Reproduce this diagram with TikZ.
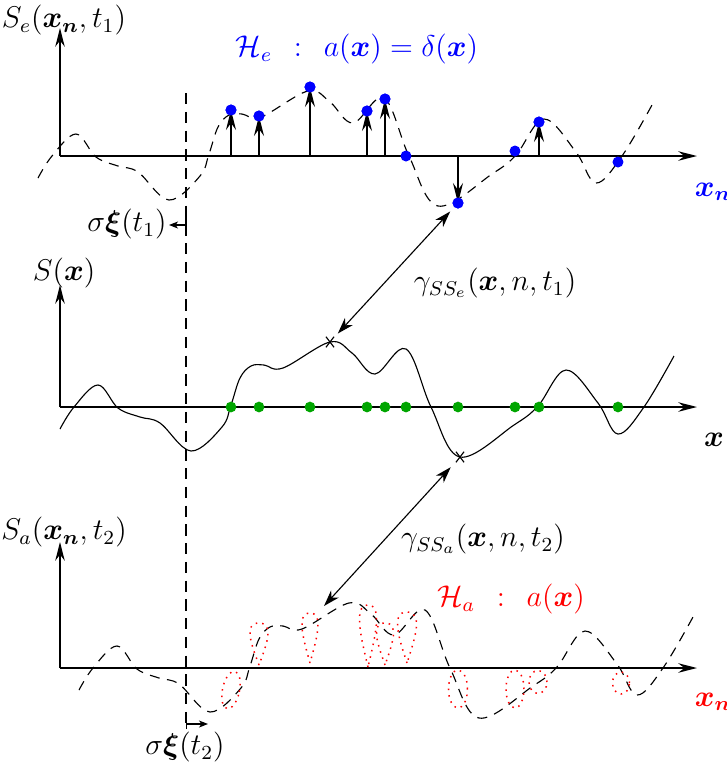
\documentclass[tikz,border=0pt]{standalone}
\usepackage{bm}
\usetikzlibrary{arrows.meta,shapes.misc}
\definecolor{dotgreen}{RGB}{0,165,0}
\newcommand\basecurve[1]{\draw[#1] plot[smooth,tension=0.6] coordinates {(60,429) (74,407) (98,385) (118,408) (140,417) (160,423) (191,451) (222,427) (231,405) (240,378) (251,366) (264,365) (283,368) (330,342) (352,353) (375,374) (406,349) (431,407) (460,457) (514,425) (538,406) (566,370) (598,403) (618,434) (644,407) (674,356)};}
\newcommand\tear[4]{\draw[redloop] (#1,#2) .. controls +({-0.78*#4},{0.45*(#3-#2)}) and +({-1.8*#4},0) .. (#1,#3) .. controls +({1.8*#4},0) and +({0.78*#4},{0.45*(#3-#2)}) .. (#1,#2);}
\begin{document}
\begin{tikzpicture}[x=0.4pt,y=-0.4pt,
  axis/.style={line width=0.7pt,-{Stealth[length=7.5pt,width=3.8pt,inset=2.5pt]}},
  sig/.style={line width=0.45pt},
  dsig/.style={line width=0.45pt,dash pattern=on 4pt off 3pt},
  vdash/.style={line width=0.45pt,dash pattern=on 4.5pt off 3pt},
  stem/.style={line width=0.5pt,-{Stealth[length=8pt,width=4pt,inset=2.8pt]}},
  gam/.style={line width=0.45pt,{Stealth[length=6.5pt,width=4.2pt,inset=2pt]}-{Stealth[length=6.5pt,width=4.2pt,inset=2pt]}},
  shiftarr/.style={line width=0.45pt,-{Stealth[length=3.6pt,width=2.8pt,inset=1pt]}},
  bdot/.style={circle,fill=blue,inner sep=0pt,minimum size=4.4pt},
  gdot/.style={circle,fill=dotgreen,inner sep=0pt,minimum size=4.3pt},
  xmark/.style={cross out,draw,line width=0.45pt,inner sep=0pt,minimum width=2.8pt,minimum height=3.8pt},
  redloop/.style={red,dotted,line width=0.6pt},
  lbl/.style={font=\fontsize{11.5}{14}\selectfont,inner sep=0pt},
]
\useasboundingbox (0,0) rectangle (727,763);

% origins
\coordinate (o1) at (60,156);
\coordinate (o2) at (60,407);
\coordinate (o3) at (60,668);

% dashed reference line
\draw[vdash] (186,93) -- (186,728);

% ---------- top panel ----------
\begin{scope}[shift={(-22,-251)}]
  \basecurve{dsig}
\end{scope}
\draw[axis] (o1) -- (697,156);
\draw[axis] (o1) -- (60,28);
\node[bdot] (b1) at (231,110) {};
\node[bdot] (b2) at (259,116) {};
\node[bdot] (b3) at (310,87) {};
\node[bdot] (b4) at (367,111) {};
\node[bdot] (b5) at (385,99) {};
\node[bdot] (b6) at (406,156) {};
\node[bdot] (b7) at (458,203) {};
\node[bdot] (b8) at (515,151) {};
\node[bdot] (b9) at (539,122) {};
\node[bdot] (b10) at (618,162) {};
\foreach \n in {b1,b2,b3,b4,b5,b7,b9}
  \draw[stem] (\n |- o1) -- (\n.center);
\foreach \n in {b1,b2,b3,b4,b5,b7,b9}
  \node[bdot] at (\n) {};

% ---------- middle panel ----------
\basecurve{sig}
\draw[axis] (o2) -- (697,407);
\draw[axis] (o2) -- (60,285);
\foreach \x in {231,259,310,367,385,406,458,515,539,618}
  \node[gdot] at (\x,407) {};
\node[xmark] (m1) at (330,342) {};
\node[xmark] (m2) at (460,457) {};

% ---------- bottom panel ----------
\begin{scope}[shift={(19,261)}]
  \basecurve{dsig}
\end{scope}
\draw[axis] (o3) -- (697,668);
\draw[axis] (o3) -- (60,542);
\tear{259}{665}{623}{9}
\tear{310}{663}{613}{8}
\tear{368}{667}{605}{8.5}
\tear{385}{665}{623}{8.5}
\tear{407}{663}{612}{9.5}
\draw[redloop,rotate around={-12:(231,690)}] (231,690) ellipse [x radius=3.4pt,y radius=7.6pt];
\draw[redloop] (458,689) ellipse [x radius=3.8pt,y radius=7.6pt];
\draw[redloop] (515,689) ellipse [x radius=3.6pt,y radius=7.6pt];
\draw[redloop] (538,682) ellipse [x radius=3.6pt,y radius=4.6pt];
\draw[redloop] (621,683) ellipse [x radius=3.4pt,y radius=4.4pt];

% ---------- correlation arrows ----------
\coordinate (ga) at (324,606);
\draw[gam,shorten <=4.6pt,shorten >=4.6pt] (b7.center) -- (m1.center);
\draw[gam,shorten <=5.5pt] (m2.center) -- (ga);

% ---------- shift arrows ----------
\coordinate (t1a) at (186,216);
\coordinate (t1b) at (169,225);
\draw[shiftarr] (t1a) |- (t1b);
\coordinate (t2a) at (186,724);
\coordinate (t2b) at (208,724);
\draw[shiftarr,{Bar[width=4pt]}-{Stealth[length=3.6pt,width=2.8pt,inset=1pt]}] (t2a) -- (t2b);

% ---------- labels ----------
\node[lbl] (lSe) at (64,20) {$S_e(\bm{x_n},t_1)$};
\node[lbl,text=blue] (lHe) at (357,49) {$\mathcal{H}_e\;\,:\;\,a(\bm{x})=\delta(\bm{x})$};
\node[lbl,text=blue] (lxn1) at (713,192) {$\bm{x_n}$};
\node[lbl] (ls1) at (127,224) {$\sigma\bm{\xi}(t_1)$};
\node[lbl] (lS) at (64,273) {$S(\bm{x})$};
\node[lbl] (lg1) at (495,283) {$\gamma_{SS_e}(\bm{x},n,t_1)$};
\node[lbl] (lx) at (714,440) {$\bm{x}$};
\node[lbl] (lSa) at (64,532) {$S_a(\bm{x_n},t_2)$};
\node[lbl] (lg2) at (483,539) {$\gamma_{SS_a}(\bm{x},n,t_2)$};
\node[lbl,text=red] (lHa) at (511,599) {$\mathcal{H}_a\;\,:\;\,a(\bm{x})$};
\node[lbl,text=red] (lxn2) at (713,702) {$\bm{x_n}$};
\node[lbl] (ls2) at (185,747) {$\sigma\bm{\xi}(t_2)$};
\end{tikzpicture}
\end{document}
